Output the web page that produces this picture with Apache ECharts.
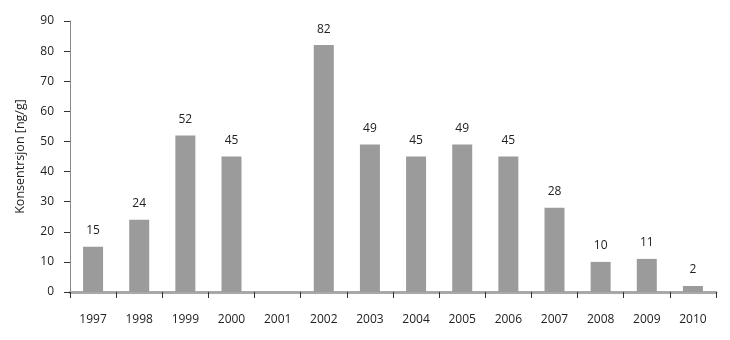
<!DOCTYPE html>
<html><head><meta charset="utf-8">
<script src="https://cdn.jsdelivr.net/npm/echarts@6/dist/echarts.min.js"></script>
<style>html,body{margin:0;padding:0;background:#fff}#c{width:730px;height:340px}</style>
</head><body><div id="c"></div>
<script>
const categories = ['1997','1998','1999','2000','2001','2002','2003','2004','2005','2006','2007','2008','2009','2010'];
const values = [15, 24, 52, 45, null, 82, 49, 45, 49, 45, 28, 10, 11, 2];
const yTitle = 'Konsentrsjon [ng/g]';
const FONT = 'Open Sans';
const chart = echarts.init(document.getElementById('c'));
chart.setOption({
  animation: false,
  grid: {left: 70, right: 14, top: 21, bottom: 48},
  xAxis: {
    type: 'category', data: categories,
    axisLine: {lineStyle: {color: '#a8a8a8', width: 3}},
    axisTick: {show: true, length: 6, lineStyle: {color: '#333', width: 1}},
    axisLabel: {color: '#222', fontSize: 12, fontFamily: FONT, margin: 22}
  },
  yAxis: {
    type: 'value', min: 0, max: 90, interval: 10,
    name: yTitle, nameLocation: 'middle', nameGap: 43, nameRotate: 90,
    nameTextStyle: {color: '#222', fontSize: 12.5, fontFamily: FONT},
    axisLine: {show: true, lineStyle: {color: '#888', width: 1}},
    axisTick: {show: true, length: 6, lineStyle: {color: '#333'}},
    axisLabel: {color: '#222', fontSize: 12, fontFamily: FONT, margin: 16},
    splitLine: {show: false}
  },
  series: [{
    type: 'bar', data: values, barWidth: 20,
    itemStyle: {color: '#9b9b9b'},
    label: {show: true, position: 'top', distance: 10, color: '#222', fontSize: 12, fontFamily: FONT}
  }]
});
</script></body></html>
